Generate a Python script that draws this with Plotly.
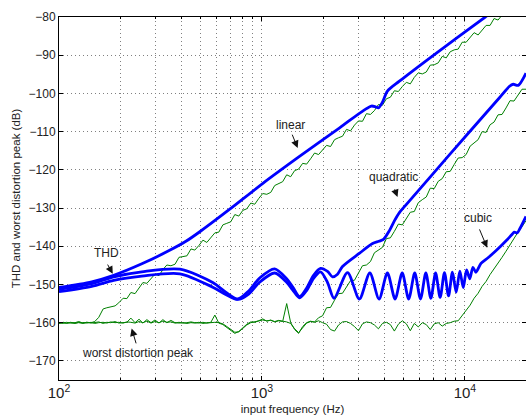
import plotly.graph_objects as go
import math

# ---- sample grid used by the "worst distortion peak" traces (Hz) ----
F_GRID = [100, 105, 109, 114, 120, 125, 131, 137, 144, 150, 157, 165, 172, 180, 189,
          197, 207, 216, 226, 237, 248, 259, 271, 284, 297, 311, 325, 340, 356, 373,
          390, 408, 427, 447, 467, 489, 512, 535, 560, 586, 613, 642, 671, 702, 735,
          769, 805, 842, 881, 922, 964, 1009, 1056, 1105, 1156, 1209, 1265, 1324, 1385,
          1449, 1516, 1587, 1660, 1737, 1817, 1901, 1989, 2081, 2178, 2279, 2384, 2494,
          2610, 2731, 2857, 2989, 3128, 3272, 3424, 3582, 3748, 3922, 4103, 4293, 4492,
          4700, 4917, 5145, 5383, 5632, 5893, 6166, 6451, 6750, 7062, 7389, 7731, 8089,
          8463, 8855, 9265, 9693, 10142, 10611, 11102, 11616, 12154, 12716, 13305,
          13921, 14565, 15239, 15945, 16683, 17455, 18263, 19109, 20000]

# worst distortion peak (dB), one value per F_GRID entry
PEAK_LINEAR = [-160.0, -160.2, -159.9, -160.1, -160.0, -159.7, -160.1, -159.9, -160.0, -159.7,
               -158.6, -156.4, -156.1, -155.8, -155.6, -154.8, -153.6, -153.7, -152.1, -152.4,
               -150.9, -149.5, -149.7, -148.5, -147.3, -147.7, -146.1, -144.9, -145.1, -144.7,
               -142.9, -142.7, -142.5, -140.7, -141.0, -139.8, -138.4, -139.0, -137.7, -136.5,
               -136.3, -134.4, -134.0, -133.6, -131.7, -132.1, -130.6, -130.2, -128.7, -129.0,
               -127.5, -126.2, -126.4, -125.9, -124.1, -123.6, -123.1, -121.3, -121.8, -120.2,
               -119.8, -118.3, -118.5, -117.1, -115.6, -116.0, -114.9, -113.6, -113.9, -112.1,
               -111.6, -111.2, -109.4, -109.8, -108.3, -107.2, -107.3, -105.3, -105.5, -104.5,
               -102.9, -103.1, -101.4, -101.0, -99.3, -99.5, -98.2, -97.1, -97.5, -95.8,
               -94.6, -94.9, -94.4, -92.6, -92.5, -92.0, -90.3, -90.7, -89.1, -88.6,
               -88.4, -86.6, -86.6, -85.4, -84.1, -84.7, -83.4, -82.2, -82.2, -80.4,
               -80.8, -79.4, -78.2, -78.4, -77.2, -76.1, -76.2, -74.7]

PEAK_QUADRATIC = [-160.2, -159.9, -160.1, -160.0, -160.2, -159.9, -160.0, -160.1, -159.9, -160.2,
                  -160.0, -159.9, -160.1, -159.8, -160.0, -159.9, -160.1, -159.8, -159.9, -160.1,
                  -159.7, -160.0, -159.6, -160.1, -159.7, -160.0, -159.6, -159.9, -159.8, -160.1,
                  -159.9, -160.1, -160.0, -159.8, -160.0, -160.1, -159.9, -160.1, -160.0, -159.9,
                  -160.0, -160.3, -161.0, -161.8, -162.5, -162.4, -161.5, -160.6, -160.0, -159.8,
                  -159.6, -159.3, -159.5, -159.4, -159.7, -159.4, -159.6, -159.8, -160.2, -161.6,
                  -162.6, -161.2, -160.1, -159.7, -159.8, -158.7, -158.2, -156.1, -156.0, -154.1,
                  -152.4, -152.3, -150.7, -149.0, -148.9, -146.8, -145.1, -144.9, -144.0, -141.7,
                  -141.0, -140.3, -138.0, -137.8, -136.1, -134.2, -134.4, -132.7, -131.1, -130.9,
                  -128.6, -127.8, -127.1, -124.8, -124.9, -123.0, -122.3, -120.5, -120.4, -118.6,
                  -116.9, -116.8, -116.0, -113.8, -113.0, -112.1, -110.0, -110.2, -108.2, -107.5,
                  -105.6, -105.5, -103.8, -101.9, -102.0, -100.5, -98.9, -98.9]

PEAK_CUBIC = [-160.1, -160.0, -160.2, -159.9, -160.1, -160.0, -160.2, -159.9, -160.1, -160.0,
              -159.8, -160.2, -159.9, -160.0, -159.7, -160.1, -160.0, -159.9, -158.8, -160.0,
              -159.1, -160.1, -159.2, -160.0, -159.3, -160.1, -159.2, -160.0, -159.4, -160.0,
              -160.1, -160.0, -160.2, -160.0, -160.1, -159.9, -160.2, -160.0, -159.9, -158.0,
              -160.1, -160.5, -161.2, -162.0, -162.8, -162.3, -161.3, -160.4, -159.8, -159.9,
              -159.5, -159.0, -159.6, -159.3, -159.8, -159.5, -159.7, -155.0, -160.0, -161.8,
              -162.8, -161.0, -160.0, -159.6, -159.9, -159.5, -160.0, -160.4, -161.8, -162.2,
              -160.6, -159.8, -159.7, -160.2, -161.0, -162.1, -160.3, -159.8, -160.0, -160.6,
              -161.6, -160.2, -159.9, -160.5, -162.2, -160.4, -159.5, -160.3, -162.1, -160.2,
              -161.1, -160.0, -160.5, -161.8, -160.3, -160.0, -160.9, -160.2, -160.0, -159.6,
              -159.5, -158.2, -156.7, -155.4, -153.6, -152.3, -150.5, -149.2, -147.4, -146.0,
              -144.4, -142.9, -141.3, -139.6, -138.2, -136.3, -134.9, -133.3]

# ---- THD traces (Hz, dB) ----
THD_LINEAR_F = [100, 145, 186, 256, 347, 422, 494, 694, 1007, 1531, 2414, 3199, 3464,
                3625, 3750, 3925, 4152, 4756, 6682, 12600, 20000]
THD_LINEAR_DB = [-150.8, -149.3, -147.6, -144.6, -141.2, -138.7, -136.2, -130.3, -123.6,
                 -116.5, -109.0, -104.3, -103.3, -103.5, -103.8, -102.3, -99.4, -96.8,
                 -90.8, -80.0, -72.4]

THD_QUAD_F = [100, 145, 186, 256, 394, 572, 663, 760, 860, 974, 1155, 1323, 1416, 1532,
              1659, 1796, 1944, 2105, 2227, 2357, 2494, 3027, 3508, 3770, 3970, 4247,
              4500, 4756, 5100, 8380, 14760, 16540, 17300, 18310, 20000]
THD_QUAD_DB = [-151.3, -149.8, -148.0, -146.7, -146.0, -149.5, -152.0, -153.8, -151.7,
               -148.3, -145.9, -148.5, -150.6, -153.2, -151.0, -147.6, -145.8, -146.6,
               -148.0, -147.3, -145.3, -141.8, -139.3, -138.7, -138.2, -135.9,
               -133.3, -131.2, -129.3, -116.1, -101.2, -98.2, -97.6, -97.9, -94.7]

THD_CUBIC_F = [100, 145, 186, 256, 394, 572, 663, 760, 860, 974, 1155, 1323, 1416, 1532,
               1659, 1796, 1944, 2105, 2265, 2640, 3020, 3400, 3775, 4150, 4530, 4910,
               5285, 5660, 6040, 6420, 6795, 7170, 7550, 7930, 8305, 8680, 9060, 9440,
               9815, 10190, 10570, 10950, 11325, 12000, 13000, 14000, 15000, 16000,
               17000, 17500, 18100, 18700, 20000]
THD_CUBIC_DB = [-151.9, -150.5, -148.9, -147.8, -147.2, -150.7, -152.6, -153.9, -152.5,
                -149.4, -147.0, -149.4, -151.4, -153.5, -151.6, -148.4, -146.7, -149.5,
                -153.6, -146.9, -153.8, -147.0, -153.8, -147.0, -153.8, -147.0, -153.8,
                -147.0, -153.8, -147.0, -153.6, -147.0, -153.4, -146.9, -153.0, -146.8,
                -152.0, -146.5, -150.8, -146.2, -148.5, -145.5, -146.8, -144.5, -143.0,
                -141.5, -140.0, -138.5, -137.0, -136.3, -136.5, -135.3, -132.2]

BLUE = "#0000ff"
GREEN = "#008000"

fig = go.Figure()
for ys in (PEAK_LINEAR, PEAK_QUADRATIC, PEAK_CUBIC):
    fig.add_trace(go.Scatter(x=F_GRID, y=ys, mode="lines",
                             line=dict(color=GREEN, width=1), hoverinfo="skip"))
for fs, ys in ((THD_LINEAR_F, THD_LINEAR_DB), (THD_QUAD_F, THD_QUAD_DB),
               (THD_CUBIC_F, THD_CUBIC_DB)):
    fig.add_trace(go.Scatter(x=fs, y=ys, mode="lines",
                             line=dict(color=BLUE, width=2.8, shape="spline", smoothing=0.8),
                             hoverinfo="skip"))

# labels and pointer arrows: (text, text position, arrow tail, arrow tip) in (Hz, dB)
LABELS = [
    ("linear", (1384, -108.3), (1400, -110.4), (1500, -114.3)),
    ("quadratic", (4446, -121.9), (4477, -124.7), (4656, -127.1)),
    ("cubic", (11640, -132.6), (11720, -135.2), (12880, -140.4)),
    ("THD", (172, -141.8), (172, -144.4), (184, -147.2)),
    ("worst distortion peak", (245, -167.9), (241, -165.8), (228, -161.5)),
]
family = "Liberation Sans, Arial, Helvetica, sans-serif"
label_font = dict(family=family, size=12, color="#222")
tick_font = dict(family=family, size=12, color="#222")
title_font = dict(family=family, size=11.5, color="#222")

for text, (tx, ty), (ax, ay), (hx, hy) in LABELS:
    fig.add_annotation(x=math.log10(tx), y=ty, xref="x", yref="y", text=text,
                       showarrow=False, font=label_font)
    fig.add_annotation(x=math.log10(hx), y=hy, ax=math.log10(ax), ay=ay,
                       xref="x", yref="y", axref="x", ayref="y", text="",
                       showarrow=True, arrowhead=2, arrowsize=1.5, arrowwidth=1,
                       arrowcolor="#111")

DOTS = "1px,3px"
GRID = "#808080"
axis_common = dict(showline=True, linecolor="black", linewidth=1, mirror="allticks",
                   ticks="inside", ticklen=4, tickcolor="black",
                   showgrid=True, gridcolor=GRID, griddash=DOTS, gridwidth=1,
                   zeroline=False, tickfont=tick_font)

fig.update_xaxes(type="log", range=[2, math.log10(20000)], dtick=1,
                 exponentformat="power", showexponent="all",
                 title=dict(text="input frequency (Hz)", font=title_font, standoff=4),
                 minor=dict(dtick="D1", ticks="inside", ticklen=2, tickcolor="black",
                            showgrid=True, gridcolor=GRID, griddash=DOTS),
                 **axis_common)
fig.update_yaxes(range=[-175, -80], tick0=-170, dtick=10,
                 title=dict(text="THD and worst distortion peak (dB)", font=title_font,
                            standoff=5),
                 **axis_common)

fig.update_layout(width=526, height=417, margin=dict(l=59, r=0, t=17, b=37),
                  paper_bgcolor="white", plot_bgcolor="white", showlegend=False,
                  font=label_font)

fig.write_html("out.html")
